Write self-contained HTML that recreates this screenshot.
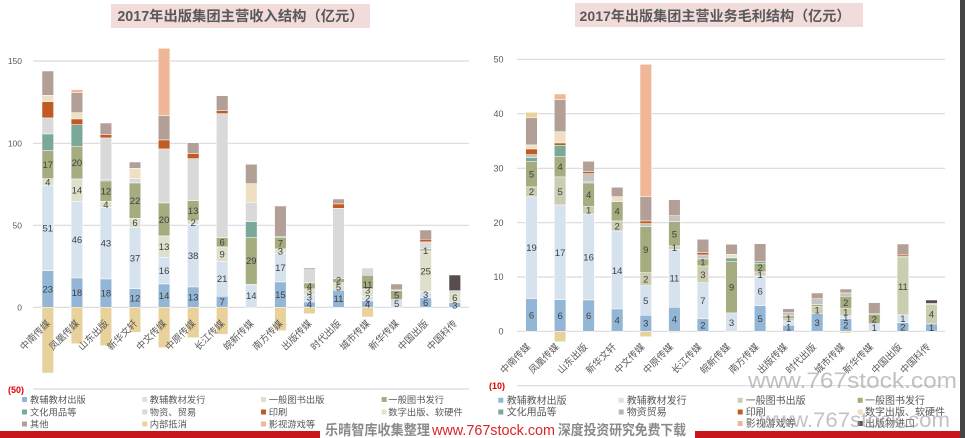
<!DOCTYPE html>
<html><head><meta charset="utf-8"><style>
html,body{margin:0;padding:0;background:#fff;}
svg{display:block;}
text{font-family:"Liberation Sans","Noto Sans CJK SC",sans-serif;}
.b1{fill:#94b6d6}.b2{fill:#d6e3ef}.g1{fill:#dfe0cc}.g1r{fill:#cbcdb1}.g2{fill:#a5ac80}
.t{fill:#7aa89a}.gy{fill:#d9d9d9}.gyr{fill:#c4c4c4}.p{fill:#c15b24}.d{fill:#eee0c2}
.o{fill:#b29f96}.n{fill:#e9d19b}.m{fill:#efb797}.k{fill:#574d4e}
.bars rect{stroke:#fff;stroke-width:0.5}
.lab{font-size:9.5px;fill:#404040;text-anchor:middle}
.cat{font-size:9.5px;fill:#5a5a5a;text-anchor:end;font-family:"Liberation Sans","Noto Sans CJK SC",sans-serif}
.ax{font-size:8.5px;fill:#595959;text-anchor:end}
.lg{font-size:9.3px;fill:#595959}
.lgr{font-size:10px;fill:#595959}
.grid{stroke:#d9d9d9;stroke-width:1.2}
</style></head><body>
<svg width="965" height="438" viewBox="0 0 965 438" xmlns="http://www.w3.org/2000/svg">
<!-- titles -->
<rect x="111" y="4" width="259" height="24" fill="#f2dcdb"/>
<text x="240.5" y="21" text-anchor="middle" style="font-size:14.3px;font-weight:bold;fill:#595959">2017年出版集团主营收入结构（亿元）</text>
<rect x="575" y="3" width="288" height="24" fill="#f2dcdb"/>
<text x="715" y="21" text-anchor="middle" style="font-size:14.1px;font-weight:bold;fill:#595959">2017年出版集团主营业务毛利结构（亿元）</text>

<!-- left grid -->
<line class="grid" x1="33" x2="469" y1="61" y2="61"/>
<line class="grid" x1="33" x2="469" y1="143.3" y2="143.3"/>
<line class="grid" x1="33" x2="469" y1="225.3" y2="225.3"/>
<line class="grid" x1="33" x2="469" y1="307.3" y2="307.3"/>
<line class="grid" x1="33" x2="469" y1="389" y2="389"/>
<text class="ax" x="22" y="64">150</text>
<text class="ax" x="22" y="146.3">100</text>
<text class="ax" x="22" y="228.3">50</text>
<text class="ax" x="22" y="310.3">0</text>
<text x="8" y="393" style="font-size:9px;fill:#e00000;font-weight:bold">(50)</text>

<!-- right grid -->
<line class="grid" x1="517" x2="945" y1="59.3" y2="59.3"/>
<line class="grid" x1="517" x2="945" y1="113.7" y2="113.7"/>
<line class="grid" x1="517" x2="945" y1="168.3" y2="168.3"/>
<line class="grid" x1="517" x2="945" y1="222.7" y2="222.7"/>
<line class="grid" x1="517" x2="945" y1="277" y2="277"/>
<line class="grid" x1="517" x2="945" y1="331.3" y2="331.3"/>
<line class="grid" x1="517" x2="945" y1="385.7" y2="385.7"/>
<text class="ax" x="503.5" y="62.5" style="font-size:9px">50</text>
<text class="ax" x="503.5" y="117" style="font-size:9px">40</text>
<text class="ax" x="503.5" y="171.5" style="font-size:9px">30</text>
<text class="ax" x="503.5" y="226" style="font-size:9px">20</text>
<text class="ax" x="503.5" y="280.2" style="font-size:9px">10</text>
<text class="ax" x="503.5" y="334.5" style="font-size:9px">0</text>
<text x="489" y="389" style="font-size:9px;fill:#e00000;font-weight:bold">(10)</text>

<g class="bars">
<!-- LEFT CHART -->
<g transform="translate(42,0)">
<rect class="o" x="0" width="11.6" y="71" height="24.3"/>
<rect class="d" x="0" width="11.6" y="95.3" height="6.4"/>
<rect class="p" x="0" width="11.6" y="101.7" height="16.3"/>
<rect class="gy" x="0" width="11.6" y="118" height="16"/>
<rect class="t" x="0" width="11.6" y="134" height="16.7"/>
<rect class="g2" x="0" width="11.6" y="150.7" height="28"/>
<rect class="g1" x="0" width="11.6" y="178.7" height="7"/>
<rect class="b2" x="0" width="11.6" y="185.7" height="85"/>
<rect class="b1" x="0" width="11.6" y="270.7" height="36.6"/>
<rect class="n" x="0" width="11.6" y="307.3" height="65.7"/>
<text class="lab" x="5.8" y="168">17</text><text class="lab" x="5.8" y="185.5">4</text><text class="lab" x="5.8" y="231.5">51</text><text class="lab" x="5.8" y="292.3">23</text>
</g>
<g transform="translate(71.1,0)">
<rect class="m" x="0" width="11.6" y="89.7" height="3"/>
<rect class="o" x="0" width="11.6" y="92.7" height="20"/>
<rect class="d" x="0" width="11.6" y="112.7" height="6.3"/>
<rect class="p" x="0" width="11.6" y="119" height="5.7"/>
<rect class="t" x="0" width="11.6" y="124.7" height="21.6"/>
<rect class="g2" x="0" width="11.6" y="146.3" height="32.7"/>
<rect class="g1" x="0" width="11.6" y="179" height="22.3"/>
<rect class="b2" x="0" width="11.6" y="201.3" height="76.7"/>
<rect class="b1" x="0" width="11.6" y="278" height="29.3"/>
<rect class="n" x="0" width="11.6" y="307.3" height="36.4"/>
<text class="lab" x="5.8" y="166">20</text><text class="lab" x="5.8" y="193.5">14</text><text class="lab" x="5.8" y="243">46</text><text class="lab" x="5.8" y="296">18</text>
</g>
<g transform="translate(100.1,0)">
<rect class="o" x="0" width="11.6" y="123" height="11.7"/>
<rect class="p" x="0" width="11.6" y="134.7" height="3.3"/>
<rect class="gy" x="0" width="11.6" y="138" height="42"/>
<rect class="t" x="0" width="11.6" y="180" height="1"/>
<rect class="g2" x="0" width="11.6" y="181" height="20.3"/>
<rect class="g1" x="0" width="11.6" y="201.3" height="6.4"/>
<rect class="b2" x="0" width="11.6" y="207.7" height="71.3"/>
<rect class="b1" x="0" width="11.6" y="279" height="28.3"/>
<rect class="n" x="0" width="11.6" y="307.3" height="38.4"/>
<text class="lab" x="5.8" y="194.5">12</text><text class="lab" x="5.8" y="207.8">4</text><text class="lab" x="5.8" y="246.7">43</text><text class="lab" x="5.8" y="296.5">18</text>
</g>
<g transform="translate(129.2,0)">
<rect class="o" x="0" width="11.6" y="162" height="6.3"/>
<rect class="d" x="0" width="11.6" y="168.3" height="10.4"/>
<rect class="gy" x="0" width="11.6" y="178.7" height="4.3"/>
<rect class="g2" x="0" width="11.6" y="183" height="35.3"/>
<rect class="g1" x="0" width="11.6" y="218.3" height="9"/>
<rect class="b2" x="0" width="11.6" y="227.3" height="61.4"/>
<rect class="b1" x="0" width="11.6" y="288.7" height="18.6"/>
<rect class="n" x="0" width="11.6" y="307.3" height="25"/>
<text class="lab" x="5.8" y="204">22</text><text class="lab" x="5.8" y="226.1">6</text><text class="lab" x="5.8" y="261.3">37</text><text class="lab" x="5.8" y="301.3">12</text>
</g>
<g transform="translate(158.3,0)">
<rect class="m" x="0" width="11.6" y="48.3" height="67.4"/>
<rect class="o" x="0" width="11.6" y="115.7" height="24.3"/>
<rect class="p" x="0" width="11.6" y="140" height="9"/>
<rect class="gy" x="0" width="11.6" y="149" height="54"/>
<rect class="g2" x="0" width="11.6" y="203" height="33"/>
<rect class="g1" x="0" width="11.6" y="236" height="21.3"/>
<rect class="b2" x="0" width="11.6" y="257.3" height="26.7"/>
<rect class="b1" x="0" width="11.6" y="284" height="23.3"/>
<rect class="n" x="0" width="11.6" y="307.3" height="40.4"/>
<text class="lab" x="5.8" y="222.8">20</text><text class="lab" x="5.8" y="250">13</text><text class="lab" x="5.8" y="274">16</text><text class="lab" x="5.8" y="299">14</text>
</g>
<g transform="translate(187.4,0)">
<rect class="o" x="0" width="11.6" y="142.7" height="11"/>
<rect class="p" x="0" width="11.6" y="153.7" height="5"/>
<rect class="gy" x="0" width="11.6" y="158.7" height="42"/>
<rect class="g2" x="0" width="11.6" y="200.7" height="20"/>
<rect class="g1" x="0" width="11.6" y="220.7" height="3.6"/>
<rect class="b2" x="0" width="11.6" y="224.3" height="62.7"/>
<rect class="b1" x="0" width="11.6" y="287" height="20.3"/>
<rect class="n" x="0" width="11.6" y="307.3" height="30.4"/>
<text class="lab" x="5.8" y="214">13</text><text class="lab" x="5.8" y="225.8">2</text><text class="lab" x="5.8" y="259">38</text><text class="lab" x="5.8" y="300.5">13</text>
</g>
<g transform="translate(216.4,0)">
<rect class="o" x="0" width="11.6" y="95.7" height="15"/>
<rect class="p" x="0" width="11.6" y="110.7" height="3"/>
<rect class="gy" x="0" width="11.6" y="113.7" height="124"/>
<rect class="g2" x="0" width="11.6" y="237.7" height="9.3"/>
<rect class="g1" x="0" width="11.6" y="247" height="14.3"/>
<rect class="b2" x="0" width="11.6" y="261.3" height="35"/>
<rect class="b1" x="0" width="11.6" y="296.3" height="11"/>
<rect class="n" x="0" width="11.6" y="307.3" height="27"/>
<text class="lab" x="5.8" y="245.7">6</text><text class="lab" x="5.8" y="257.5">9</text><text class="lab" x="5.8" y="282.1">21</text><text class="lab" x="5.8" y="305.1">7</text>
</g>
<g transform="translate(245.5,0)">
<rect class="o" x="0" width="11.6" y="164.3" height="19.4"/>
<rect class="d" x="0" width="11.6" y="183.7" height="18.6"/>
<rect class="gy" x="0" width="11.6" y="202.3" height="19.4"/>
<rect class="t" x="0" width="11.6" y="221.7" height="15.6"/>
<rect class="g2" x="0" width="11.6" y="237.3" height="47"/>
<rect class="b2" x="0" width="11.6" y="284.3" height="23"/>
<text class="lab" x="5.8" y="264.1">29</text><text class="lab" x="5.8" y="299.1">14</text>
</g>
<g transform="translate(274.6,0)">
<rect class="o" x="0" width="11.6" y="206" height="30.7"/>
<rect class="t" x="0" width="11.6" y="236.7" height="1"/>
<rect class="g2" x="0" width="11.6" y="237.7" height="11.3"/>
<rect class="g1" x="0" width="11.6" y="249" height="4.3"/>
<rect class="b2" x="0" width="11.6" y="253.3" height="28.7"/>
<rect class="b1" x="0" width="11.6" y="282" height="25.3"/>
<rect class="n" x="0" width="11.6" y="307.3" height="23.4"/>
<text class="lab" x="5.8" y="246.7">7</text><text class="lab" x="5.8" y="254.5">3</text><text class="lab" x="5.8" y="271">17</text><text class="lab" x="5.8" y="298">15</text>
</g>
<g transform="translate(303.6,0)">
<rect class="o" x="0" width="11.6" y="268" height="1.7"/>
<rect class="gy" x="0" width="11.6" y="269.7" height="13.3"/>
<rect class="g2" x="0" width="11.6" y="283" height="6"/>
<rect class="g1" x="0" width="11.6" y="289" height="6"/>
<rect class="b2" x="0" width="11.6" y="295" height="7"/>
<rect class="b1" x="0" width="11.6" y="302" height="5.3"/>
<rect class="n" x="0" width="11.6" y="307.3" height="6.4"/>
<text class="lab" x="5.8" y="289.3">4</text><text class="lab" x="5.8" y="295">3</text><text class="lab" x="5.8" y="300.7">3</text><text class="lab" x="5.8" y="307.7">4</text>
</g>
<g transform="translate(332.7,0)">
<rect class="o" x="0" width="11.6" y="199" height="5"/>
<rect class="p" x="0" width="11.6" y="204" height="4.3"/>
<rect class="gy" x="0" width="11.6" y="208.3" height="70.4"/>
<rect class="g2" x="0" width="11.6" y="278.7" height="4"/>
<rect class="g1" x="0" width="11.6" y="282.7" height="7.6"/>
<rect class="b1" x="0" width="11.6" y="290.3" height="17"/>
<text class="lab" x="5.8" y="283.4">2</text><text class="lab" x="5.8" y="290.6">5</text><text class="lab" x="5.8" y="302.1">11</text>
</g>
<g transform="translate(361.8,0)">
<rect class="gy" x="0" width="11.6" y="268" height="7.3"/>
<rect class="g2" x="0" width="11.6" y="275.3" height="13.7"/>
<rect class="g1" x="0" width="11.6" y="289" height="7.7"/>
<rect class="b2" x="0" width="11.6" y="296.7" height="4.3"/>
<rect class="b1" x="0" width="11.6" y="301" height="6.3"/>
<rect class="n" x="0" width="11.6" y="307.3" height="9.7"/>
<text class="lab" x="5.8" y="288">11</text><text class="lab" x="5.8" y="293.6">3</text><text class="lab" x="5.8" y="301.4">2</text><text class="lab" x="5.8" y="307.4">4</text>
</g>
<g transform="translate(390.8,0)">
<rect class="o" x="0" width="11.6" y="284" height="6"/>
<rect class="t" x="0" width="11.6" y="290" height="0.7"/>
<rect class="g2" x="0" width="11.6" y="290.7" height="9"/>
<rect class="b2" x="0" width="11.6" y="299.7" height="7.6"/>
<text class="lab" x="5.8" y="298.5">5</text><text class="lab" x="5.8" y="306.8">5</text>
</g>
<g transform="translate(419.9,0)">
<rect class="o" x="0" width="11.6" y="230" height="9.3"/>
<rect class="p" x="0" width="11.6" y="239.3" height="2.7"/>
<rect class="gy" x="0" width="11.6" y="242" height="7"/>
<rect class="g2" x="0" width="11.6" y="249" height="2"/>
<rect class="g1" x="0" width="11.6" y="251" height="40.7"/>
<rect class="b2" x="0" width="11.6" y="291.7" height="6"/>
<rect class="b1" x="0" width="11.6" y="297.7" height="9.6"/>
<text class="lab" x="5.8" y="253.8">1</text><text class="lab" x="5.8" y="274.7">25</text><text class="lab" x="5.8" y="298">3</text><text class="lab" x="5.8" y="305.8">6</text>
</g>
<g transform="translate(449,0)">
<rect class="k" x="0" width="11.6" y="275" height="15.7"/>
<rect class="o" x="0" width="11.6" y="290.7" height="1"/>
<rect class="g1" x="0" width="11.6" y="291.7" height="11"/>
<rect class="b1" x="0" width="11.6" y="302.7" height="4.6"/>
<text class="lab" x="5.8" y="300.8">6</text><text class="lab" x="5.8" y="308.6">3</text>
</g>

<!-- RIGHT CHART -->
<g transform="translate(525.7,0)">
<rect class="n" x="0" width="11.6" y="112.3" height="5.4"/>
<rect class="o" x="0" width="11.6" y="117.7" height="27.3"/>
<rect class="d" x="0" width="11.6" y="145" height="4"/>
<rect class="p" x="0" width="11.6" y="149" height="5.7"/>
<rect class="gyr" x="0" width="11.6" y="154.7" height="3"/>
<rect class="t" x="0" width="11.6" y="157.7" height="3.6"/>
<rect class="g2" x="0" width="11.6" y="161.3" height="25.7"/>
<rect class="g1r" x="0" width="11.6" y="187" height="9.7"/>
<rect class="b2" x="0" width="11.6" y="196.7" height="102"/>
<rect class="b1" x="0" width="11.6" y="298.7" height="32.6"/>
<text class="lab" x="5.8" y="177.6">5</text><text class="lab" x="5.8" y="195.2">2</text><text class="lab" x="5.8" y="251">19</text><text class="lab" x="5.8" y="318.4">6</text>
</g>
<g transform="translate(554.3,0)">
<rect class="m" x="0" width="11.6" y="94" height="5.7"/>
<rect class="o" x="0" width="11.6" y="99.7" height="32"/>
<rect class="d" x="0" width="11.6" y="131.7" height="11.3"/>
<rect class="p" x="0" width="11.6" y="143" height="2.3"/>
<rect class="t" x="0" width="11.6" y="145.3" height="11.4"/>
<rect class="g2" x="0" width="11.6" y="156.7" height="20.3"/>
<rect class="g1r" x="0" width="11.6" y="177" height="28"/>
<rect class="b2" x="0" width="11.6" y="205" height="94.7"/>
<rect class="b1" x="0" width="11.6" y="299.7" height="31.6"/>
<rect class="n" x="0" width="11.6" y="331.3" height="10.4"/>
<text class="lab" x="5.8" y="170.2">4</text><text class="lab" x="5.8" y="194.8">5</text><text class="lab" x="5.8" y="255.8">17</text><text class="lab" x="5.8" y="318.9">6</text>
</g>
<g transform="translate(582.8,0)">
<rect class="o" x="0" width="11.6" y="161.3" height="10.4"/>
<rect class="p" x="0" width="11.6" y="171.7" height="2"/>
<rect class="gyr" x="0" width="11.6" y="173.7" height="8.3"/>
<rect class="t" x="0" width="11.6" y="182" height="1"/>
<rect class="g2" x="0" width="11.6" y="183" height="23.7"/>
<rect class="g1r" x="0" width="11.6" y="206.7" height="7.3"/>
<rect class="b2" x="0" width="11.6" y="214" height="86"/>
<rect class="b1" x="0" width="11.6" y="300" height="31.3"/>
<text class="lab" x="5.8" y="198.2">4</text><text class="lab" x="5.8" y="213.7">1</text><text class="lab" x="5.8" y="260.6">16</text><text class="lab" x="5.8" y="319">6</text>
</g>
<g transform="translate(611.4,0)">
<rect class="o" x="0" width="11.6" y="187.3" height="9.4"/>
<rect class="d" x="0" width="11.6" y="196.7" height="5"/>
<rect class="g2" x="0" width="11.6" y="201.7" height="19.3"/>
<rect class="g1r" x="0" width="11.6" y="221" height="10"/>
<rect class="b2" x="0" width="11.6" y="231" height="78"/>
<rect class="b1" x="0" width="11.6" y="309" height="22.3"/>
<text class="lab" x="5.8" y="214.7">4</text><text class="lab" x="5.8" y="229.6">2</text><text class="lab" x="5.8" y="273.8">14</text><text class="lab" x="5.8" y="323.5">4</text>
</g>
<g transform="translate(640,0)">
<rect class="m" x="0" width="11.6" y="64.3" height="132.4"/>
<rect class="o" x="0" width="11.6" y="196.7" height="24.3"/>
<rect class="p" x="0" width="11.6" y="221" height="2.7"/>
<rect class="gyr" x="0" width="11.6" y="223.7" height="3"/>
<rect class="g2" x="0" width="11.6" y="226.7" height="46"/>
<rect class="g1r" x="0" width="11.6" y="272.7" height="13"/>
<rect class="b2" x="0" width="11.6" y="285.7" height="29.6"/>
<rect class="b1" x="0" width="11.6" y="315.3" height="16"/>
<rect class="n" x="0" width="11.6" y="331.3" height="5.4"/>
<text class="lab" x="5.8" y="253.2">9</text><text class="lab" x="5.8" y="282.6">2</text><text class="lab" x="5.8" y="303.9">5</text><text class="lab" x="5.8" y="326.7">3</text>
</g>
<g transform="translate(668.6,0)">
<rect class="o" x="0" width="11.6" y="199.7" height="16"/>
<rect class="p" x="0" width="11.6" y="215.7" height="1"/>
<rect class="gyr" x="0" width="11.6" y="216.7" height="5"/>
<rect class="g2" x="0" width="11.6" y="221.7" height="24.3"/>
<rect class="g1r" x="0" width="11.6" y="246" height="3.3"/>
<rect class="b2" x="0" width="11.6" y="249.3" height="58"/>
<rect class="b1" x="0" width="11.6" y="307.3" height="24"/>
<rect class="n" x="0" width="11.6" y="331.3" height="1.2"/>
<text class="lab" x="5.8" y="237.3">5</text><text class="lab" x="5.8" y="251.2">1</text><text class="lab" x="5.8" y="281.7">11</text><text class="lab" x="5.8" y="322.7">4</text>
</g>
<g transform="translate(697.1,0)">
<rect class="o" x="0" width="11.6" y="239.3" height="13.4"/>
<rect class="p" x="0" width="11.6" y="252.7" height="2.3"/>
<rect class="gyr" x="0" width="11.6" y="255" height="4"/>
<rect class="g2" x="0" width="11.6" y="259" height="7"/>
<rect class="g1r" x="0" width="11.6" y="266" height="16.7"/>
<rect class="b2" x="0" width="11.6" y="282.7" height="36"/>
<rect class="b1" x="0" width="11.6" y="318.7" height="12.6"/>
<text class="lab" x="5.8" y="265.6">1</text><text class="lab" x="5.8" y="277.8">3</text><text class="lab" x="5.8" y="304.2">7</text><text class="lab" x="5.8" y="328.4">2</text>
</g>
<g transform="translate(725.7,0)">
<rect class="o" x="0" width="11.6" y="244.3" height="10"/>
<rect class="d" x="0" width="11.6" y="254.3" height="3.7"/>
<rect class="t" x="0" width="11.6" y="258" height="3.3"/>
<rect class="g2" x="0" width="11.6" y="261.3" height="51.7"/>
<rect class="b2" x="0" width="11.6" y="313" height="18.3"/>
<text class="lab" x="5.8" y="290.7">9</text><text class="lab" x="5.8" y="325.8">3</text>
</g>
<g transform="translate(754.3,0)">
<rect class="o" x="0" width="11.6" y="243.7" height="18"/>
<rect class="t" x="0" width="11.6" y="261.7" height="2"/>
<rect class="g2" x="0" width="11.6" y="263.7" height="8.3"/>
<rect class="g1r" x="0" width="11.6" y="272" height="4"/>
<rect class="b2" x="0" width="11.6" y="276" height="29.7"/>
<rect class="b1" x="0" width="11.6" y="305.7" height="25.6"/>
<text class="lab" x="5.8" y="271.2">2</text><text class="lab" x="5.8" y="278">1</text><text class="lab" x="5.8" y="294.3">6</text><text class="lab" x="5.8" y="321.9">5</text>
</g>
<g transform="translate(782.8,0)">
<rect class="o" x="0" width="11.6" y="308.7" height="4"/>
<rect class="gyr" x="0" width="11.6" y="312.7" height="3.3"/>
<rect class="g2" x="0" width="11.6" y="316" height="2.7"/>
<rect class="g1r" x="0" width="11.6" y="318.7" height="2.3"/>
<rect class="b2" x="0" width="11.6" y="321" height="4.3"/>
<rect class="b1" x="0" width="11.6" y="325.3" height="6"/>
<text class="lab" x="5.8" y="321.8">1</text><text class="lab" x="5.8" y="330.6">1</text>
</g>
<g transform="translate(811.4,0)">
<rect class="o" x="0" width="11.6" y="293" height="5.7"/>
<rect class="p" x="0" width="11.6" y="298.7" height="1"/>
<rect class="gyr" x="0" width="11.6" y="299.7" height="5"/>
<rect class="g2" x="0" width="11.6" y="304.7" height="2"/>
<rect class="g1r" x="0" width="11.6" y="306.7" height="7"/>
<rect class="b1" x="0" width="11.6" y="313.7" height="17.6"/>
<text class="lab" x="5.8" y="313.5">1</text><text class="lab" x="5.8" y="325.8">3</text>
</g>
<g transform="translate(840,0)">
<rect class="o" x="0" width="11.6" y="289" height="4"/>
<rect class="gyr" x="0" width="11.6" y="293" height="3.3"/>
<rect class="g2" x="0" width="11.6" y="296.3" height="12.4"/>
<rect class="g1r" x="0" width="11.6" y="308.7" height="7.3"/>
<rect class="b2" x="0" width="11.6" y="316" height="2.7"/>
<rect class="b1" x="0" width="11.6" y="318.7" height="12.6"/>
<rect class="n" x="0" width="11.6" y="331.3" height="1.7"/>
<text class="lab" x="5.8" y="305.8">2</text><text class="lab" x="5.8" y="315.6">1</text><text class="lab" x="5.8" y="320.8">1</text><text class="lab" x="5.8" y="328.4">2</text>
</g>
<g transform="translate(868.5,0)">
<rect class="o" x="0" width="11.6" y="302.7" height="10.6"/>
<rect class="t" x="0" width="11.6" y="313.3" height="1"/>
<rect class="g2" x="0" width="11.6" y="314.3" height="9.4"/>
<rect class="b2" x="0" width="11.6" y="323.7" height="7.6"/>
<text class="lab" x="5.8" y="322.3">2</text><text class="lab" x="5.8" y="330.8">1</text>
</g>
<g transform="translate(897.1,0)">
<rect class="o" x="0" width="11.6" y="244" height="11"/>
<rect class="p" x="0" width="11.6" y="255" height="1.3"/>
<rect class="g2" x="0" width="11.6" y="256.3" height="1.4"/>
<rect class="g1r" x="0" width="11.6" y="257.7" height="57.3"/>
<rect class="b2" x="0" width="11.6" y="315" height="7.7"/>
<rect class="b1" x="0" width="11.6" y="322.7" height="8.6"/>
<text class="lab" x="5.8" y="289.8">11</text><text class="lab" x="5.8" y="322">1</text><text class="lab" x="5.8" y="330.3">2</text>
</g>
<g transform="translate(925.7,0)">
<rect class="k" x="0" width="11.6" y="300" height="3.3"/>
<rect class="o" x="0" width="11.6" y="303.3" height="1"/>
<rect class="g1r" x="0" width="11.6" y="304.3" height="19.7"/>
<rect class="b1" x="0" width="11.6" y="324" height="7.3"/>
<text class="lab" x="5.8" y="317.5">4</text><text class="lab" x="5.8" y="330.8">1</text>
</g>
</g>

<!-- left category labels -->
<g class="cat">
<text transform="translate(50.8,324) rotate(-45)">中南传媒</text>
<text transform="translate(79.9,324) rotate(-45)">凤凰传媒</text>
<text transform="translate(108.9,324) rotate(-45)">山东出版</text>
<text transform="translate(138,324) rotate(-45)">新华文轩</text>
<text transform="translate(167.1,324) rotate(-45)">中文传媒</text>
<text transform="translate(196.2,324) rotate(-45)">中原传媒</text>
<text transform="translate(225.2,324) rotate(-45)">长江传媒</text>
<text transform="translate(254.3,324) rotate(-45)">皖新传媒</text>
<text transform="translate(283.4,324) rotate(-45)">南方传媒</text>
<text transform="translate(312.4,324) rotate(-45)">出版传媒</text>
<text transform="translate(341.5,324) rotate(-45)">时代出版</text>
<text transform="translate(370.6,324) rotate(-45)">城市传媒</text>
<text transform="translate(399.6,324) rotate(-45)">新华传媒</text>
<text transform="translate(428.7,324) rotate(-45)">中国出版</text>
<text transform="translate(457.8,324) rotate(-45)">中国科传</text>
</g>
<!-- right category labels -->
<g class="cat">
<text transform="translate(531,347.4) rotate(-45)">中南传媒</text>
<text transform="translate(559.6,347.4) rotate(-45)">凤凰传媒</text>
<text transform="translate(588.1,347.4) rotate(-45)">山东出版</text>
<text transform="translate(616.7,347.4) rotate(-45)">新华文轩</text>
<text transform="translate(645.3,347.4) rotate(-45)">中文传媒</text>
<text transform="translate(673.9,347.4) rotate(-45)">中原传媒</text>
<text transform="translate(702.4,347.4) rotate(-45)">长江传媒</text>
<text transform="translate(731,347.4) rotate(-45)">皖新传媒</text>
<text transform="translate(759.6,347.4) rotate(-45)">南方传媒</text>
<text transform="translate(788.1,347.4) rotate(-45)">出版传媒</text>
<text transform="translate(816.7,347.4) rotate(-45)">时代出版</text>
<text transform="translate(845.3,347.4) rotate(-45)">城市传媒</text>
<text transform="translate(873.8,347.4) rotate(-45)">新华传媒</text>
<text transform="translate(902.4,347.4) rotate(-45)">中国出版</text>
<text transform="translate(931,347.4) rotate(-45)">中国科传</text>
</g>

<!-- left legend -->
<rect class="b1" x="22" y="397" width="5" height="5"/><text class="lg" x="30" y="403">教辅教材出版</text>
<rect class="b2" x="142.3" y="397" width="5" height="5"/><text class="lg" x="149.7" y="403">教辅教材发行</text>
<rect class="g1" x="261" y="397" width="5" height="5"/><text class="lg" x="268.7" y="403">一般图书出版</text>
<rect class="g2" x="381.7" y="397" width="5" height="5"/><text class="lg" x="388.3" y="403">一般图书发行</text>
<rect class="t" x="22" y="409.5" width="5" height="5"/><text class="lg" x="30" y="415.5">文化用品等</text>
<rect class="gy" x="142.3" y="409.5" width="5" height="5"/><text class="lg" x="149.7" y="415.5">物资、贸易</text>
<rect class="p" x="261" y="409.5" width="5" height="5"/><text class="lg" x="268.7" y="415.5">印刷</text>
<rect class="d" x="381.7" y="409.5" width="5" height="5"/><text class="lg" x="388.3" y="415.5">数字出版、软硬件</text>
<rect class="o" x="22" y="421.5" width="5" height="5"/><text class="lg" x="30" y="427.5">其他</text>
<rect class="n" x="142.3" y="421.5" width="5" height="5"/><text class="lg" x="149.7" y="427.5">内部抵消</text>
<rect class="m" x="261" y="421.5" width="5" height="5"/><text class="lg" x="268.7" y="427.5">影视游戏等</text>

<!-- right legend -->
<rect class="b1" x="498.3" y="397.8" width="5" height="5"/><text class="lgr" x="506.7" y="404">教辅教材出版</text>
<rect class="b2" x="618.7" y="397.8" width="5" height="5"/><text class="lgr" x="626.7" y="404">教辅教材发行</text>
<rect class="g1r" x="737.7" y="397.8" width="5" height="5"/><text class="lgr" x="745.7" y="404">一般图书出版</text>
<rect class="g2" x="857.7" y="397.8" width="5" height="5"/><text class="lgr" x="865" y="404">一般图书发行</text>
<rect class="t" x="498.3" y="409.5" width="5" height="5"/><text class="lgr" x="506.7" y="415.7">文化用品等</text>
<rect fill="#b5b5b5" x="618.7" y="409.5" width="5" height="5"/><text class="lgr" x="626.7" y="415.7">物资贸易</text>
<rect class="p" x="737.7" y="409.5" width="5" height="5"/><text class="lgr" x="745.7" y="415.7">印刷</text>
<rect class="d" x="857.7" y="409.5" width="5" height="5"/><text class="lgr" x="865" y="415.7">数字出版、软硬件</text>
<rect class="m" x="737.7" y="421" width="5" height="5"/><text class="lgr" x="745.7" y="427.2">影视游戏等</text>
<rect class="k" x="857.7" y="421" width="5" height="5"/><text class="lgr" x="865" y="427.2">出版物进口</text>

<!-- watermarks -->
<text x="748" y="388" textLength="209" lengthAdjust="spacingAndGlyphs" style="font-size:22px;fill:#9a9a9a;opacity:0.6">www.767stock.com</text>
<text x="760" y="427" textLength="190" lengthAdjust="spacingAndGlyphs" style="font-size:21px;fill:#9a9a9a;opacity:0.6">www.767stock.com</text>

<!-- bottom banner -->
<rect x="0" y="431" width="320" height="7" fill="#c8161d"/>
<rect x="695" y="431" width="265" height="7" fill="#c8161d"/>
<rect x="320" y="418" width="375" height="20" fill="#ffffff"/>
<text x="325" y="435" textLength="105" lengthAdjust="spacingAndGlyphs" style="font-size:14px;fill:#8a8a8a;font-weight:bold">乐晴智库收集整理</text>
<text x="432" y="435" textLength="123" lengthAdjust="spacingAndGlyphs" style="font-size:15px;fill:#d9252a">www.767stock.com</text>
<text x="558" y="435" textLength="128" lengthAdjust="spacingAndGlyphs" style="font-size:14px;fill:#8a8a8a;font-weight:bold">深度投资研究免费下载</text>

<!-- right dark strip -->
<rect x="960" y="0" width="5" height="438" fill="#454545"/>
</svg>
</body></html>
